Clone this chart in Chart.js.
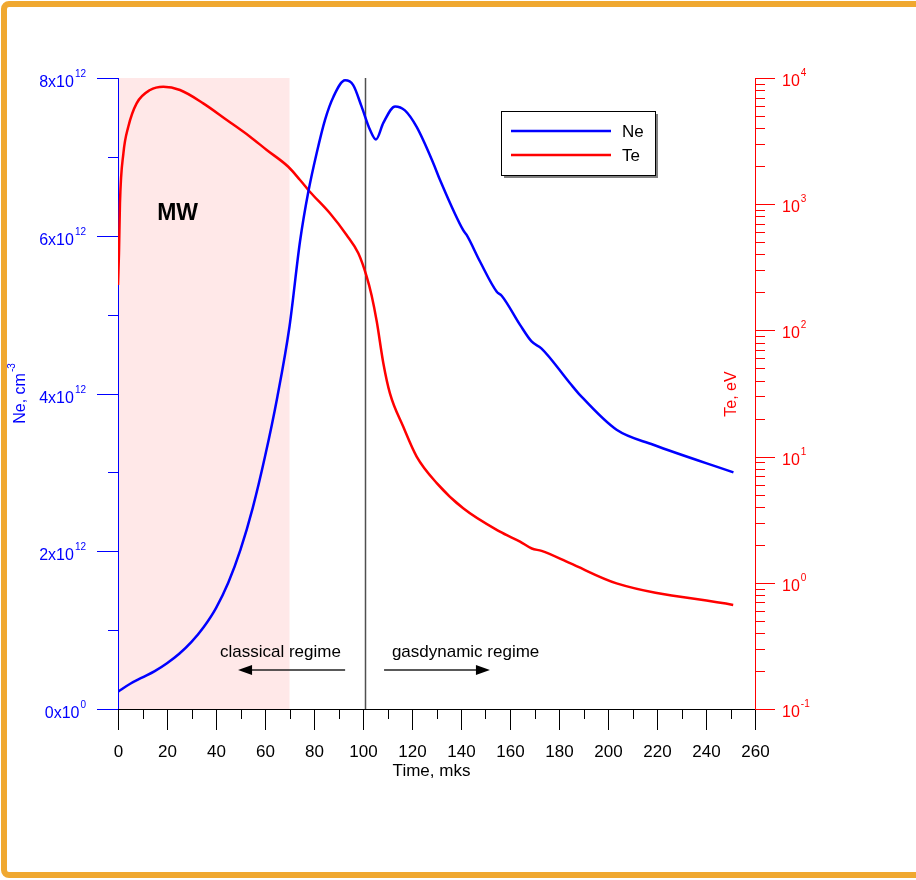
<!DOCTYPE html>
<html>
<head>
<meta charset="utf-8">
<script src="https://cdn.jsdelivr.net/npm/chart.js@4.4.0/dist/chart.umd.min.js"></script>
<style>
  html, body { margin: 0; padding: 0; background: #fff; overflow: hidden; }
  #chart { display: block; }
</style>
</head>
<body>
<canvas id="chart" width="916" height="880"></canvas>
<script>
// Electron density, x10^12 cm^-3
const timeNe = [0, 5, 10, 15, 20, 25, 30, 35, 40, 45, 50, 55, 60, 65, 70, 74.3, 77.7, 81.1, 84.5, 87.9,
  92.7, 96.0, 99.4, 102.9, 105.3, 108.3, 113.1, 117.1, 121.9, 128.7, 131.4, 140.9, 142.3, 147.8,
  154.6, 156.6, 164.1, 168.8, 172.9, 184.5, 188.6, 203.5, 218.5, 251.2];
const neValues = [0.22, 0.32, 0.40, 0.48, 0.58, 0.70, 0.85, 1.04, 1.28, 1.60, 2.02, 2.55, 3.20, 3.95, 4.85, 5.93, 6.56, 7.05, 7.47, 7.76,
  7.97, 7.91, 7.64, 7.34, 7.22, 7.43, 7.64, 7.59, 7.38, 6.92, 6.71, 6.07, 6.01, 5.67,
  5.29, 5.24, 4.87, 4.66, 4.57, 4.13, 3.98, 3.54, 3.35, 3.00];

// Electron temperature, eV
const timeTe = [0, 0.4, 0.8, 2.2, 4.2, 7.6, 13.1, 18.5, 25.3, 34.8, 44.4, 53.9, 60.7, 69.5, 74.3, 78.4,
  86.5, 93.3, 98.1, 101.5, 103.5, 105.6, 108.3, 111, 116.4, 121.9, 130.1, 140.9, 155.9, 164.1,
  168.9, 172.9, 184.5, 203.5, 251.1];
const teValues = [229, 408, 1016, 2530, 4110, 6300, 8030, 8530, 8030, 6300, 4650, 3430, 2690, 1980, 1556, 1250,
  847, 570, 408, 267, 190, 118, 55, 31.7, 17.3, 10, 6.17, 3.89, 2.54, 2.12,
  1.87, 1.79, 1.43, 0.99, 0.667];

const timeTicks = [0, 20, 40, 60, 80, 100, 120, 140, 160, 180, 200, 220, 240, 260];
const neTicks = [0, 2, 4, 6, 8];
const teExponents = [-1, 0, 1, 2, 3, 4];

const mwEnd = 70;        // end of microwave heating
const regimeSplit = 101; // classical / gasdynamic boundary

const FONT = '"Liberation Sans", Arial, sans-serif';

function supText(ctx, base, sup, x, y, align, size) {
  ctx.textAlign = 'left';
  ctx.textBaseline = 'alphabetic';
  ctx.font = size + 'px ' + FONT;
  const wb = ctx.measureText(base).width;
  const small = Math.round(size * 0.62) + 'px ' + FONT;
  ctx.font = small;
  const ws = ctx.measureText(sup).width;
  const start = align === 'right' ? x - wb - ws - 1 : (align === 'center' ? x - (wb + ws + 1) / 2 : x);
  ctx.font = size + 'px ' + FONT;
  ctx.fillText(base, start, y);
  ctx.font = small;
  ctx.fillText(sup, start + wb + 1, y - size * 0.6);
}

function arrow(ctx, from, to, y) {
  const dir = Math.sign(to - from);
  ctx.strokeStyle = '#222';
  ctx.lineWidth = 1.3;
  ctx.beginPath();
  ctx.moveTo(from, y);
  ctx.lineTo(to - dir * 12, y);
  ctx.stroke();
  ctx.fillStyle = '#000';
  ctx.beginPath();
  ctx.moveTo(to, y);
  ctx.lineTo(to - dir * 14, y - 5);
  ctx.lineTo(to - dir * 14, y + 5);
  ctx.closePath();
  ctx.fill();
}

const decor = {
  id: 'decor',
  beforeDraw(chart) {
    const { ctx, chartArea: a, scales: { x } } = chart;
    ctx.save();
    ctx.fillStyle = '#fff';
    ctx.fillRect(0, 0, chart.width, chart.height);
    // page frame, open on the right
    ctx.strokeStyle = '#f0a830';
    ctx.lineWidth = 6;
    ctx.beginPath();
    ctx.moveTo(chart.width + 10, 4);
    ctx.lineTo(9, 4);
    ctx.arcTo(4, 4, 4, 9, 5);
    ctx.lineTo(4, 870);
    ctx.arcTo(4, 875, 9, 875, 5);
    ctx.lineTo(chart.width + 10, 875);
    ctx.stroke();

    const x0 = x.getPixelForValue(0), x1 = x.getPixelForValue(mwEnd);
    ctx.fillStyle = '#ffe8e8';
    ctx.fillRect(x0, a.top, x1 - x0, a.bottom - a.top);
    const xs = Math.round(x.getPixelForValue(regimeSplit)) + 0.5;
    ctx.strokeStyle = '#505050';
    ctx.lineWidth = 1.5;
    ctx.beginPath();
    ctx.moveTo(xs, a.top);
    ctx.lineTo(xs, a.bottom);
    ctx.stroke();
    ctx.restore();
  },
  afterDraw(chart) {
    const { ctx, chartArea: a, scales: { x, ne, te } } = chart;
    ctx.save();
    ctx.lineWidth = 1;

    // time axis ticks and labels
    ctx.strokeStyle = '#000';
    ctx.fillStyle = '#000';
    ctx.font = '17px ' + FONT;
    ctx.textAlign = 'center';
    ctx.textBaseline = 'middle';
    timeTicks.forEach((t, i) => {
      const px = Math.round(x.getPixelForValue(t)) + 0.5;
      ctx.beginPath(); ctx.moveTo(px, a.bottom); ctx.lineTo(px, a.bottom + 21); ctx.stroke();
      ctx.fillText(String(t), px, a.bottom + 43);
      if (i < timeTicks.length - 1) {
        const pm = Math.round(x.getPixelForValue((t + timeTicks[i + 1]) / 2)) + 0.5;
        ctx.beginPath(); ctx.moveTo(pm, a.bottom); ctx.lineTo(pm, a.bottom + 10); ctx.stroke();
      }
    });
    ctx.fillText('Time, mks', (a.left + a.right) / 2 - 5, a.bottom + 62);

    // Ne axis
    ctx.strokeStyle = '#0000ff';
    ctx.fillStyle = '#0000ff';
    neTicks.forEach((v, i) => {
      const py = Math.round(ne.getPixelForValue(v)) + 0.5;
      ctx.beginPath(); ctx.moveTo(a.left - 21, py); ctx.lineTo(a.left, py); ctx.stroke();
      supText(ctx, v + 'x10', v === 0 ? '0' : '12', a.left - 32, py + 8, 'right', 16);
      if (i < neTicks.length - 1) {
        const pm = Math.round(ne.getPixelForValue((v + neTicks[i + 1]) / 2)) + 0.5;
        ctx.beginPath(); ctx.moveTo(a.left - 10, pm); ctx.lineTo(a.left, pm); ctx.stroke();
      }
    });
    ctx.save();
    ctx.translate(19, (a.top + a.bottom) / 2);
    ctx.rotate(-Math.PI / 2);
    supText(ctx, 'Ne, cm', '-3', 0, 6, 'center', 16);
    ctx.restore();

    // Te axis (log)
    ctx.strokeStyle = '#ff0000';
    ctx.fillStyle = '#ff0000';
    teExponents.forEach((e, i) => {
      const dec = Math.pow(10, e);
      const py = Math.round(te.getPixelForValue(dec)) + 0.5;
      ctx.beginPath(); ctx.moveTo(a.right, py); ctx.lineTo(a.right + 20, py); ctx.stroke();
      supText(ctx, '10', String(e), a.right + 27, py + 7, 'left', 16);
      if (i < teExponents.length - 1) {
        for (let k = 2; k <= 9; k++) {
          const pm = Math.round(te.getPixelForValue(k * dec)) + 0.5;
          ctx.beginPath(); ctx.moveTo(a.right, pm); ctx.lineTo(a.right + 10, pm); ctx.stroke();
        }
      }
    });
    ctx.save();
    ctx.translate(a.right - 23, 394);
    ctx.rotate(-Math.PI / 2);
    ctx.font = '16px ' + FONT;
    ctx.textAlign = 'center';
    ctx.textBaseline = 'middle';
    ctx.fillText('Te, eV', 0, 0);
    ctx.restore();

    // annotations
    ctx.fillStyle = '#000';
    ctx.font = 'bold 23px ' + FONT;
    ctx.textAlign = 'left';
    ctx.textBaseline = 'alphabetic';
    ctx.fillText('MW', x.getPixelForValue(16), 220);
    ctx.font = '17px ' + FONT;
    ctx.fillText('classical regime', x.getPixelForValue(41.6), 657);
    ctx.fillText('gasdynamic regime', x.getPixelForValue(111.8), 657);
    arrow(ctx, x.getPixelForValue(92.7), x.getPixelForValue(49), 670);
    arrow(ctx, x.getPixelForValue(108.6), x.getPixelForValue(151.8), 670);

    // legend
    const lx = 501, ly = 111, lw = 154, lh = 64;
    ctx.fillStyle = '#808080';
    ctx.fillRect(lx + 3, ly + lh, lw, 3);
    ctx.fillRect(lx + lw, ly + 3, 3, lh);
    ctx.fillStyle = '#fff';
    ctx.fillRect(lx, ly, lw, lh);
    ctx.strokeStyle = '#000';
    ctx.lineWidth = 1;
    ctx.strokeRect(lx + 0.5, ly + 0.5, lw, lh);
    chart.data.datasets.forEach((ds, i) => {
      const yy = ly + 20 + i * 24;
      ctx.strokeStyle = ds.borderColor;
      ctx.lineWidth = 2.5;
      ctx.beginPath(); ctx.moveTo(lx + 10, yy); ctx.lineTo(lx + 110, yy); ctx.stroke();
      ctx.fillStyle = '#000';
      ctx.font = '17px ' + FONT;
      ctx.textBaseline = 'middle';
      ctx.fillText(ds.label, lx + 121, yy + 1);
    });
    ctx.restore();
  }
};

new Chart(document.getElementById('chart'), {
  type: 'line',
  data: {
    datasets: [
      {
        label: 'Ne',
        data: timeNe.map((t, i) => ({ x: t, y: neValues[i] })),
        yAxisID: 'ne',
        borderColor: '#0000ff',
        borderWidth: 2.5,
        pointRadius: 0,
        cubicInterpolationMode: 'monotone'
      },
      {
        label: 'Te',
        data: timeTe.map((t, i) => ({ x: t, y: teValues[i] })),
        yAxisID: 'te',
        borderColor: '#ff0000',
        borderWidth: 2.5,
        pointRadius: 0,
        cubicInterpolationMode: 'monotone'
      }
    ]
  },
  options: {
    responsive: false,
    animation: false,
    devicePixelRatio: 1,
    layout: { padding: { top: 78, left: 0, right: 0, bottom: 0 } },
    plugins: { legend: { display: false }, tooltip: { enabled: false } },
    scales: {
      x: {
        type: 'linear', min: 0, max: 260,
        ticks: { display: false },
        grid: { display: false },
        border: { color: '#000', width: 1 },
        afterFit(s) { s.height = 171; }
      },
      ne: {
        type: 'linear', position: 'left', min: 0, max: 8,
        ticks: { display: false },
        grid: { display: false },
        border: { color: '#0000ff', width: 1 },
        afterFit(s) { s.width = 118; }
      },
      te: {
        type: 'logarithmic', position: 'right', min: 0.1, max: 10000,
        ticks: { display: false },
        grid: { display: false },
        border: { color: '#ff0000', width: 1 },
        afterFit(s) { s.width = 161; }
      }
    }
  },
  plugins: [decor]
});
</script>
</body>
</html>
